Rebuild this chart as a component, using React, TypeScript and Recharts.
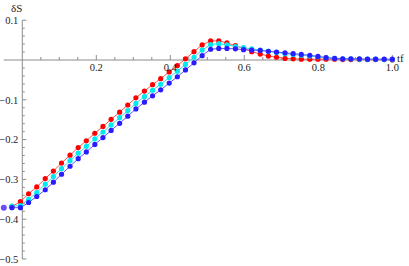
import React from "react";
import { LineChart, Line, XAxis, YAxis, ReferenceLine } from "recharts";

const tf = [
  -0.05, -0.028, -0.005, 0.017, 0.039, 0.062, 0.084, 0.106, 0.129, 0.151, 0.173, 0.196,
  0.218, 0.24, 0.263, 0.285, 0.307, 0.33, 0.352, 0.374, 0.397, 0.419, 0.441, 0.464,
  0.486, 0.509, 0.531, 0.553, 0.576, 0.598, 0.62, 0.643, 0.665, 0.687, 0.71, 0.732,
  0.754, 0.777, 0.799, 0.821, 0.844, 0.866, 0.888, 0.911, 0.933, 0.955, 0.978, 1.0,
];

const redS = [
  -0.368, -0.368, -0.356, -0.336, -0.319, -0.298, -0.279, -0.259, -0.239, -0.22, -0.203, -0.184,
  -0.167, -0.149, -0.131, -0.113, -0.095, -0.078, -0.062, -0.047, -0.03, -0.014, 0.003, 0.021,
  0.038, 0.048, 0.048, 0.043, 0.036, 0.029, 0.021, 0.015, 0.01, 0.007, 0.004, 0.003,
  0.002, 0.002, 0.002, 0.002, 0.002, 0.001, 0.001, 0.001, 0.001, 0.001, 0.001, 0.0,
];

const cyanS = [
  -0.367, -0.367, -0.366, -0.35, -0.333, -0.312, -0.293, -0.273, -0.253, -0.234, -0.217, -0.198,
  -0.181, -0.163, -0.145, -0.127, -0.109, -0.092, -0.076, -0.061, -0.044, -0.028, -0.011, 0.007,
  0.025, 0.039, 0.041, 0.038, 0.034, 0.031, 0.028, 0.025, 0.022, 0.019, 0.016, 0.014,
  0.012, 0.01, 0.008, 0.006, 0.004, 0.003, 0.003, 0.002, 0.002, 0.002, 0.001, 0.001,
];

const blueS = [
  -0.371, -0.371, -0.371, -0.358, -0.343, -0.326, -0.307, -0.287, -0.267, -0.248, -0.231, -0.212,
  -0.195, -0.177, -0.159, -0.141, -0.123, -0.106, -0.09, -0.075, -0.058, -0.042, -0.025, -0.007,
  0.011, 0.027, 0.029, 0.029, 0.028, 0.026, 0.025, 0.024, 0.022, 0.02, 0.018, 0.016,
  0.014, 0.012, 0.009, 0.006, 0.004, 0.003, 0.003, 0.003, 0.002, 0.002, 0.002, 0.002,
];

const xTicks = [0.2, 0.4, 0.6, 0.8, 1.0];
const xTickLabels = ["0.2", "0.4", "0.6", "0.8", "1.0"];
const yTicks = [0.1, -0.1, -0.2, -0.3, -0.4, -0.5];
const yTickLabels = ["0.1", "\u22120.1", "\u22120.2", "\u22120.3", "\u22120.4", "\u22120.5"];

const data = tf.map((x, i) => ({ x, red: redS[i], cyan: cyanS[i], blue: blueS[i] }));

// minor ticks: 0.05 on x, 0.02 on y
const xMinor: number[] = [];
for (let i = 1; i <= 20; i++) if (i % 4 !== 0) xMinor.push(i * 0.05);
const yMinor: number[] = [];
for (let i = -25; i <= 5; i++) if (i % 5 !== 0) yMinor.push(i * 0.02);

const AXIS = "#8c8c8c";
const FONT = "'Liberation Serif', 'Times New Roman', serif";
const labelStyle = { fill: "#222", fontSize: 10.5, fontFamily: FONT };

const App = () => {
  return (
    <div style={{ position: "absolute", left: 0, top: 0, width: 409, height: 266, background: "#fff" }}>
      <LineChart width={409} height={266} data={data} margin={{ top: 0, right: 0, bottom: 0, left: 0 }}>
        <XAxis dataKey="x" type="number" domain={[-0.0603, 1.0451]} allowDataOverflow hide />
        <YAxis type="number" domain={[-0.5176, 0.1508]} allowDataOverflow hide />

        <ReferenceLine segment={[{ x: -0.05, y: 0 }, { x: 1.0, y: 0 }]} stroke={AXIS} ifOverflow="visible" />
        <ReferenceLine segment={[{ x: 0, y: -0.5 }, { x: 0, y: 0.1 }]} stroke={AXIS} ifOverflow="visible" />

        {xMinor.map((v) => (
          <ReferenceLine key={"xm" + v} segment={[{ x: v, y: 0 }, { x: v, y: 0.0075 }]} stroke={AXIS} />
        ))}
        {xTicks.map((v, i) => (
          <ReferenceLine
            key={"xt" + v}
            segment={[{ x: v, y: 0 }, { x: v, y: 0.0126 }]}
            stroke={AXIS}
            label={{ value: xTickLabels[i], position: "bottom", offset: 4, ...labelStyle }}
          />
        ))}
        {yMinor.map((v) => (
          <ReferenceLine key={"ym" + v} segment={[{ x: 0, y: v }, { x: 0.0068, y: v }]} stroke={AXIS} />
        ))}
        {yTicks.map((v, i) => (
          <ReferenceLine
            key={"yt" + v}
            segment={[{ x: 0, y: v }, { x: 0.011, y: v }]}
            stroke={AXIS}
            label={{ value: yTickLabels[i], position: "left", offset: 4, ...labelStyle }}
          />
        ))}

        <Line
          dataKey="red"
          stroke="#ff5050"
          strokeWidth={1}
          dot={{ r: 2.6, fill: "#ff0000", stroke: "none" }}
          isAnimationActive={false}
        />
        <Line
          dataKey="cyan"
          stroke="#30e0e0"
          strokeWidth={1}
          dot={{ r: 2.6, fill: "#00e8f0", stroke: "none" }}
          isAnimationActive={false}
        />
        <Line
          dataKey="blue"
          stroke="#6a4cff"
          strokeWidth={1}
          dot={{ r: 2.6, fill: "#2a1cff", stroke: "none" }}
          isAnimationActive={false}
        />
      </LineChart>
      <div
        style={{ position: "absolute", left: 11, top: 3, fontFamily: FONT, fontSize: 11, lineHeight: "11px", color: "#222" }}
      >
        δS
      </div>
      <div
        style={{ position: "absolute", left: 397, top: 53, fontFamily: FONT, fontSize: 11, lineHeight: "11px", color: "#222" }}
      >
        tf
      </div>
    </div>
  );
};

export default App;
